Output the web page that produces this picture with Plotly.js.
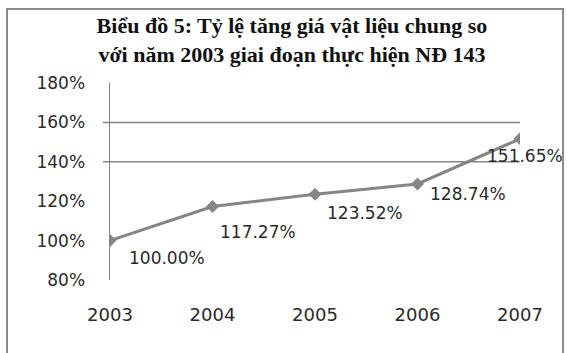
<!DOCTYPE html>
<html>
<head>
<meta charset="utf-8">
<script src="https://cdn.plot.ly/plotly-3.0.1.min.js"></script>
<style>
  html, body { margin: 0; padding: 0; background: #fff; }
  #chart { width: 567px; height: 353px; }
</style>
</head>
<body>
<div id="chart"></div>
<script>
// Data
const years = ['2003', '2004', '2005', '2006', '2007'];
const ratios = [100.00, 117.27, 123.52, 128.74, 151.65];
const yTicks = [80, 100, 120, 140, 160, 180];
const yTickLabels = ['80%', '100%', '120%', '140%', '160%', '180%'];
const gridLevels = [140, 160];
const chartTitle = 'Biểu đồ 5: Tỷ lệ tăng giá vật liệu chung so<br>với năm 2003 giai đoạn thực hiện NĐ 143';

// Label offsets (px) for data labels
const labelDx = [17, 5, 10, 10, -35];
const labelDy = [-17, -25, -19, -10, -17];

const gray = '#858585';
const plotW = 410, plotH = 197, mL = 110, mT = 83;
const sans = 'DejaVu Sans, Verdana, sans-serif';

const trace = {
  x: years,
  y: ratios,
  type: 'scatter',
  mode: 'lines+markers',
  line: { color: gray, width: 3 },
  marker: { symbol: 'diamond', size: 10, color: gray },
  hoverinfo: 'skip',
  showlegend: false
};

const annotations = years.map((yr, i) => ({
  x: i, y: ratios[i], xref: 'x', yref: 'y',
  text: ratios[i].toFixed(2) + '%',
  showarrow: false,
  xanchor: 'left', yanchor: 'middle',
  xshift: labelDx[i], yshift: labelDy[i],
  font: { family: sans, size: 17, color: '#2a2a2a' }
}));

const shapes = gridLevels.map(v => ({
  type: 'line', xref: 'paper', yref: 'y',
  x0: -7 / plotW, x1: 1, y0: v, y1: v,
  line: { color: gray, width: 1.5 },
  layer: 'below'
}));
// Outer chart-area border
shapes.push({
  type: 'rect', xref: 'paper', yref: 'paper',
  x0: (7 - mL) / plotW, x1: (563 - mL) / plotW,
  y0: (mT + plotH - 370) / plotH, y1: (mT + plotH - 9) / plotH,
  line: { color: '#8a8a8a', width: 2 },
  fillcolor: 'rgba(0,0,0,0)'
});

const layout = {
  width: 567, height: 353,
  margin: { l: mL, r: 567 - mL - plotW, t: mT, b: 353 - mT - plotH },
  paper_bgcolor: '#fff', plot_bgcolor: '#fff',
  title: {
    text: chartTitle,
    x: 292 / 567, xanchor: 'center', xref: 'container',
    y: 1 - 33 / 353, yanchor: 'middle', yref: 'container',
    font: { family: 'Liberation Serif, Times New Roman, serif', size: 22, color: '#111', weight: 'bold' }
  },
  xaxis: {
    type: 'category',
    range: [0, 4],
    showgrid: false, zeroline: false, showline: false,
    ticks: '', ticklabelstandoff: 22,
    tickfont: { family: sans, size: 18, color: '#2a2a2a' },
    fixedrange: true
  },
  yaxis: {
    range: [80, 180],
    tickvals: yTicks, ticktext: yTickLabels,
    showgrid: false, zeroline: false,
    showline: true, linecolor: gray, linewidth: 1.5,
    ticks: '', ticklabelstandoff: 20,
    tickfont: { family: sans, size: 17, color: '#2a2a2a' },
    fixedrange: true
  },
  annotations: annotations,
  shapes: shapes
};

Plotly.newPlot('chart', [trace], layout, { displayModeBar: false, staticPlot: true });
</script>
</body>
</html>
